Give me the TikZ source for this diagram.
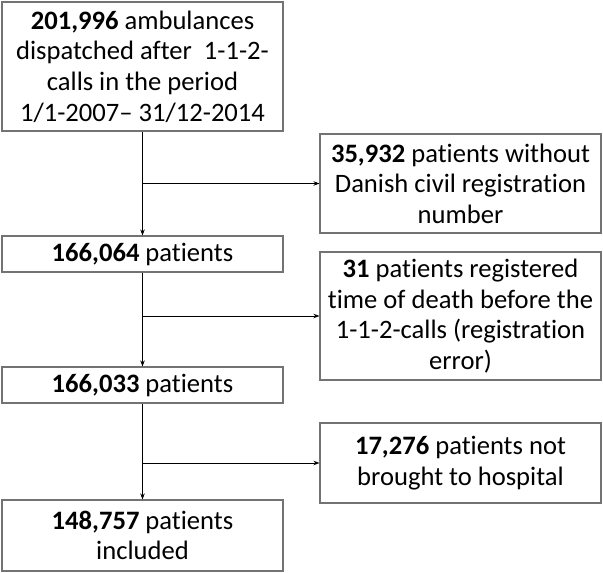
\documentclass[tikz,border=0pt]{standalone}
\usepackage{fontspec}
\setmainfont{Carlito}[Ligatures={NoCommon,NoContextual}]
\usetikzlibrary{arrows.meta}
\newcommand\nti{t\kern0pt i}
\begin{document}
\begin{tikzpicture}[x=1pt,y=-1pt]
\tikzset{
  box/.style={draw=black!55, line width=1.1pt, minimum width=281pt, align=center, inner sep=0pt,
    font=\fontsize{26.6}{30.6}\selectfont},
  arr/.style={-{Stealth[length=6pt,width=4.5pt]}, line width=0.8pt, black}
}
\useasboundingbox (0,0) rectangle (603,573);
\node[box, minimum height=129pt] (b1) at (142.5,66.5) {\textbf{201,996} ambulances\\dispatched after~ 1-1-2-\\calls in the period\\1/1-2007-- 31/12-2014};
\node[box, minimum height=99pt] (b2) at (460.5,183.5) {\textbf{35,932} pa\nti ents without\\Danish civil registra\nti on\\number};
\node[box, minimum height=36pt] (b3) at (142.5,254) {\textbf{166,064} pa\nti ents};
\node[box, minimum height=128pt] (b4) at (460.5,316) {\textbf{31} pa\nti ents registered\\\nti me of death before the\\1-1-2-calls (registra\nti on\\error)};
\node[box, minimum height=36pt] (b5) at (142.5,385) {\textbf{166,033} pa\nti ents};
\node[box, minimum height=80pt] (b6) at (460.5,463) {\textbf{17,276} pa\nti ents not\\brought to hospital};
\node[box, minimum height=71pt] (b7) at (142.5,535.5) {\textbf{148,757} pa\nti ents\\included};
\coordinate (j1) at (b1.south |- b2.west);
\coordinate (j2) at (b3.south |- b4.west);
\coordinate (j3) at (b5.south |- b6.west);
\draw[arr] (b1.south) -- (b3.north);
\draw[arr] (j1) -- (b2.west);
\draw[arr] (b3.south) -- (b5.north);
\draw[arr] (j2) -- (b4.west);
\draw[arr] (b5.south) -- (b7.north);
\draw[arr] (j3) -- (b6.west);
\end{tikzpicture}
\end{document}
